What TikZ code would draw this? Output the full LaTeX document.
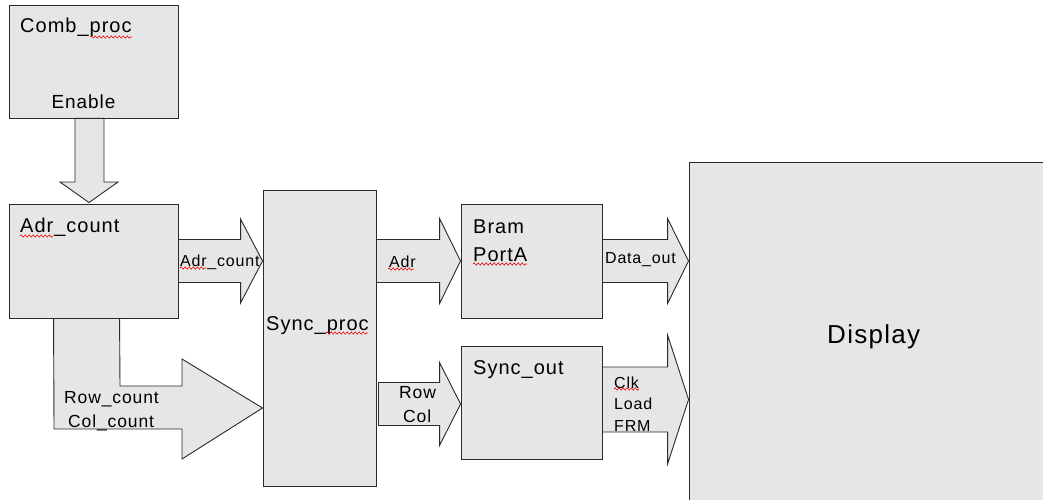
\documentclass[tikz,border=0pt]{standalone}
\usepackage{fontspec}
\setmainfont{Liberation Sans}[LetterSpace=5]
\usetikzlibrary{calc,decorations.pathmorphing}
\definecolor{boxfill}{HTML}{E6E6E6}
\definecolor{boxline}{HTML}{2A2A2A}
\newcommand\ftitle{\fontsize{20}{24}\selectfont}
\newcommand\fenable{\fontsize{19}{23}\selectfont}
\newcommand\fsmall{\fontsize{16}{20}\selectfont}
\newcommand\fmid{\fontsize{17.5}{21}\selectfont}
\newcommand\fbig{\fontsize{26}{30}\selectfont}
\newcommand\blockarrow[5]{%
  \draw[barrow] let \p1=#1, \p2=#2 in
    (\x1,\y2+#3pt) -- (\x2-#5pt,\y2+#3pt) -- (\x2-#5pt,\y2+#4pt) -- (\x2,\y2)
    -- (\x2-#5pt,\y2-#4pt) -- (\x2-#5pt,\y2-#3pt) -- (\x1,\y2-#3pt) -- cycle;}
\begin{document}
\begin{tikzpicture}[x=1pt,y=1pt,
  box/.style={draw=boxline,fill=boxfill,line width=0.9pt,inner sep=0pt},
  barrow/.style={draw=boxline,fill=boxfill,line width=0.9pt,line join=miter},
  lbl/.style={anchor=base west,inner sep=0pt,text=black},
  wavy/.style={draw=red!90!black,line width=0.6pt,decorate,decoration={snake,amplitude=1.1pt,segment length=4pt}}]
\useasboundingbox (0,0) rectangle (1043,499);
\clip (0,0) rectangle (1043,499);
% boxes
\node[box,minimum width=169pt,minimum height=113pt] (comb) at (93.5,437.5) {};
\node[box,minimum width=169pt,minimum height=114pt] (adr) at (93.5,238) {};
\node[box,minimum width=113pt,minimum height=296pt] (sync) at (319.5,161) {};
\node[box,minimum width=141pt,minimum height=114pt] (bram) at (531.5,238) {};
\node[box,minimum width=141pt,minimum height=113pt] (syncout) at (531.5,96.5) {};
\node[box,minimum width=367pt,minimum height=346pt] (display) at (872.5,164) {};
% Enable arrow (vertical)
\draw[barrow] ($(comb.south)+(-18.5,0)$) -- (75,317) -- (60,317) -- ($(adr.north)+(-4.5,1)$)
  -- (118,317) -- (104,317) -- ($(comb.south)+(10.5,0)$) -- cycle;
% Row/Col L-shaped arrow
\draw[barrow] ($(adr.south west)+(45,0)$) -- (54,70) -- (182,70) -- (182,40) -- (sync.west |- 0,91)
  -- (182,140) -- (182,113) -- (120,113) -- ($(adr.south west)+(111,0)$) -- cycle;
% horizontal block arrows
\blockarrow{(adr.east)}{(sync.west |- adr.east)}{21.5}{42}{22}
\blockarrow{(sync.east)}{(bram.west |- adr.east)}{21.5}{42.5}{21}
\blockarrow{(bram.east)}{(display.west |- bram.east)}{21.5}{42.5}{21}
\blockarrow{($(sync.east)+(2,0)$)}{($(syncout.west)+(0,-1.5)$)}{21.5}{41.5}{21}
\blockarrow{(syncout.east)}{($(display.west |- syncout.east)+(0,3)$)}{32.5}{64.5}{21}
% titles
\node[lbl,font=\ftitle] (tcomb) at (20,466) {Comb\_proc};
\node[lbl,font=\fenable,anchor=base] (tenable) at (83.5,390) {Enable};
\node[lbl,font=\ftitle] (tadr) at (20,267) {Adr\_count};
\node[lbl,font=\ftitle] (tsync) at (266,169) {Sync\_proc};
\node[lbl,font=\ftitle] (tbram) at (473,266) {Bram};
\node[lbl,font=\ftitle] (tport) at (473,238) {PortA};
\node[lbl,font=\ftitle] (tsyncout) at (473,125) {Sync\_out};
\node[lbl,font=\fbig] (tdisplay) at (827,156) {Display};
% arrow labels
\node[lbl,font=\fsmall] (ladr) at (180,233) {Adr\_count};
\node[lbl,font=\fmid] (lrow) at (64,96) {Row\_count};
\node[lbl,font=\fmid] (lcol) at (68,72) {Col\_count};
\node[lbl,font=\fsmall] (ladr2) at (389,232) {Adr};
\node[lbl,font=\fmid] (lrow2) at (399,101) {Row};
\node[lbl,font=\fmid] (lcol2) at (403,77) {Col};
\node[lbl,font=\fsmall] (ldata) at (605,236) {Data\_out};
\node[lbl,font=\fsmall] (lclk) at (614,111) {Clk};
\node[lbl,font=\fsmall] (lload) at (614,90) {Load};
\node[lbl,font=\fsmall] (lfrm) at (614,68) {FRM};
% spell-check squiggles
\draw[wavy] (90,462) -- (132,462);
\draw[wavy] (20,263) -- (53,263);
\draw[wavy] (180,231) -- (206,231);
\draw[wavy] (326,166) -- (368,166);
\draw[wavy] (388,230) -- (414,230);
\draw[wavy] (473,235) -- (527,235);
\draw[wavy] (614,110) -- (639,110);
\end{tikzpicture}
\end{document}
